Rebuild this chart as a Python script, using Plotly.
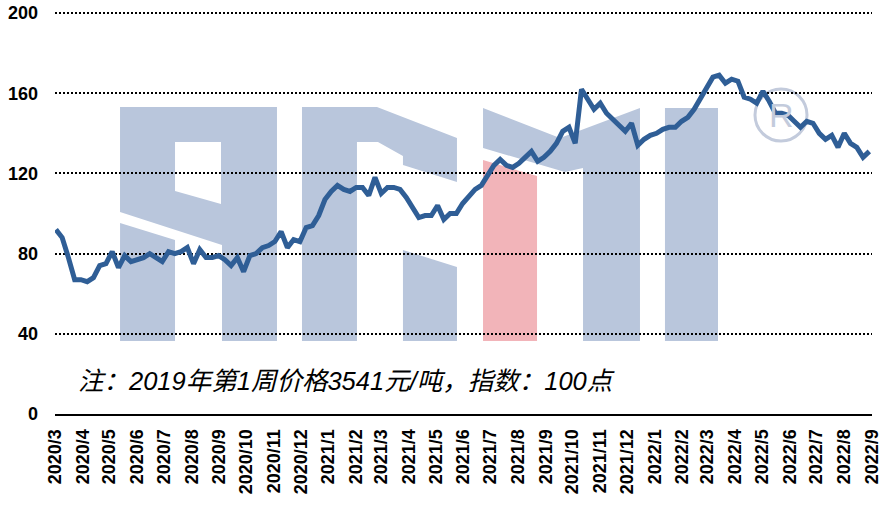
import pandas as pd
import plotly.graph_objects as go

# ---------------- data (weekly price index, 2019 week 1 = 100) ----------------
index_values = [
    92, 88, 78, 67, 67, 66, 68, 74, 75, 81,
    73, 79, 76, 77, 78, 80, 78, 76, 81, 80,
    81, 83, 75, 82, 78, 78, 79, 77, 74, 78,
    71, 79, 80, 83, 84, 86, 91, 83, 87, 86,
    93, 94, 99, 107, 111, 114, 112, 111, 113, 113,
    109, 118, 110, 113, 113, 112, 108, 103, 98, 99,
    99, 104, 97, 100, 100, 105, 109, 112, 114, 119,
    124, 127, 124, 123, 125, 128, 131, 126, 128, 131,
    135, 141, 143, 135, 162, 157, 152, 155, 150, 147,
    144, 141, 145, 134, 137, 139, 140, 142, 143, 143,
    146, 148, 152, 157, 162, 168, 169, 165, 167, 166,
    158, 157, 155, 161, 156, 150, 150, 149, 146, 143,
    146, 145, 140, 137, 139, 133, 140, 135, 133, 128,
    131,
]
week_dates = pd.date_range("2020-03-02", periods=len(index_values), freq="7D")
x_start = "2020-03-01"
x_end = "2022-09-01"
y_ticks = [0, 40, 80, 120, 160, 200]
y_range = [0, 202]
note_text = "注：2019年第1周价格3541元/吨，指数：100点"

# ---------------- figure ----------------
fig = go.Figure()
fig.add_trace(go.Scatter(
    x=week_dates, y=index_values, mode="lines",
    line=dict(color="#2f5e96", width=5), hoverinfo="skip", showlegend=False,
))

# ---- layout geometry (screen pixels) ----
W, H = 885, 506
L, R, B = 55, 872, 414          # plot left / right / bottom
Y200 = 13                        # pixel row of the 200 gridline
PT = B - (B - Y200) * y_range[1] / 200.0   # plot top so that 200 sits at Y200


def path(points):
    pts = [((px - L) / (R - L), (B - py) / (B - PT)) for px, py in points]
    return "M " + " L ".join(f"{a:.4f},{b:.4f}" for a, b in pts) + " Z"


# ---- watermark logo (decoration) ----
logo_blue = "#b9c6dc"
logo_red = "#f2b4b9"
blue_polys = [
    [(120, 107), (277, 107), (277, 341), (222, 341), (222, 245), (120, 212)],
    [(120, 223), (175, 240), (175, 341), (120, 341)],
    [(302, 107), (377, 107), (457, 138), (457, 182), (403, 165), (403, 156),
     (378, 142), (357, 142), (357, 341), (302, 341)],
    [(403, 250), (457, 267), (457, 341), (403, 341)],
    [(483, 108), (560, 138), (640, 108), (640, 341), (583, 341), (583, 168),
     (565, 172), (483, 148)],
    [(665, 108), (718, 108), (718, 341), (665, 341)],
]
white_polys = [
    [(175, 142), (221, 142), (221, 204), (175, 191)],
]
red_polys = [
    [(483, 160), (537, 176), (537, 341), (483, 341)],
]
shapes = []
for p in blue_polys:
    shapes.append(dict(type="path", xref="paper", yref="paper", path=path(p),
                       fillcolor=logo_blue, line=dict(width=0), layer="below"))
for p in white_polys:
    shapes.append(dict(type="path", xref="paper", yref="paper", path=path(p),
                       fillcolor="white", line=dict(width=0), layer="below"))
for p in red_polys:
    shapes.append(dict(type="path", xref="paper", yref="paper", path=path(p),
                       fillcolor=logo_red, line=dict(width=0), layer="below"))
cx, cy, r = 781, 115, 26
shapes.append(dict(type="circle", xref="paper", yref="paper",
                   x0=(cx - r - L) / (R - L), x1=(cx + r - L) / (R - L),
                   y0=(B - cy - r) / (B - PT), y1=(B - cy + r) / (B - PT),
                   line=dict(color="#c3cbdc", width=3), layer="below"))

fig.update_layout(
    width=W, height=H,
    margin=dict(l=L, r=W - R, t=PT, b=H - B, autoexpand=False),
    paper_bgcolor="white", plot_bgcolor="rgba(0,0,0,0)",
    font=dict(family="Arial, 'Liberation Sans', sans-serif", color="black"),
    shapes=shapes,
    annotations=[
        dict(xref="paper", yref="paper", x=(cx - L) / (R - L), y=(B - cy) / (B - PT),
             text="R", showarrow=False, font=dict(size=34, color="#c3cbdc",
                                                  family="Arial, 'Liberation Sans'"),
             xanchor="center", yanchor="middle"),
        dict(xref="paper", yref="y", x=(76 - L) / (R - L), y=16.5,
             text="<i>" + note_text + "</i>", showarrow=False,
             xanchor="left", yanchor="middle",
             font=dict(size=25.5, color="black",
                       family="Arial, 'Liberation Sans', 'Noto Sans CJK SC'")),
    ],
    xaxis=dict(
        type="date", range=[x_start, x_end], automargin=False,
        tick0=x_start, dtick="M1", tickformat="%Y/%-m", tickangle=-90,
        tickfont=dict(size=18, family="Arial, 'Liberation Sans'", weight="bold"),
        showgrid=False, zeroline=False, showline=True, linecolor="black",
        linewidth=2, ticks="", ticklabelstandoff=6,
    ),
    yaxis=dict(
        range=y_range, tickvals=y_ticks, automargin=False,
        tickfont=dict(size=18, family="Arial, 'Liberation Sans'", weight="bold"),
        showgrid=True, gridcolor="black", gridwidth=2, griddash="2px,2px",
        zeroline=False, showline=False, ticks="", ticklabelstandoff=16,
    ),
)

fig.write_html("out.html", config={"displayModeBar": False},
               post_script="document.body.style.margin='0';document.body.style.overflow='hidden';")
